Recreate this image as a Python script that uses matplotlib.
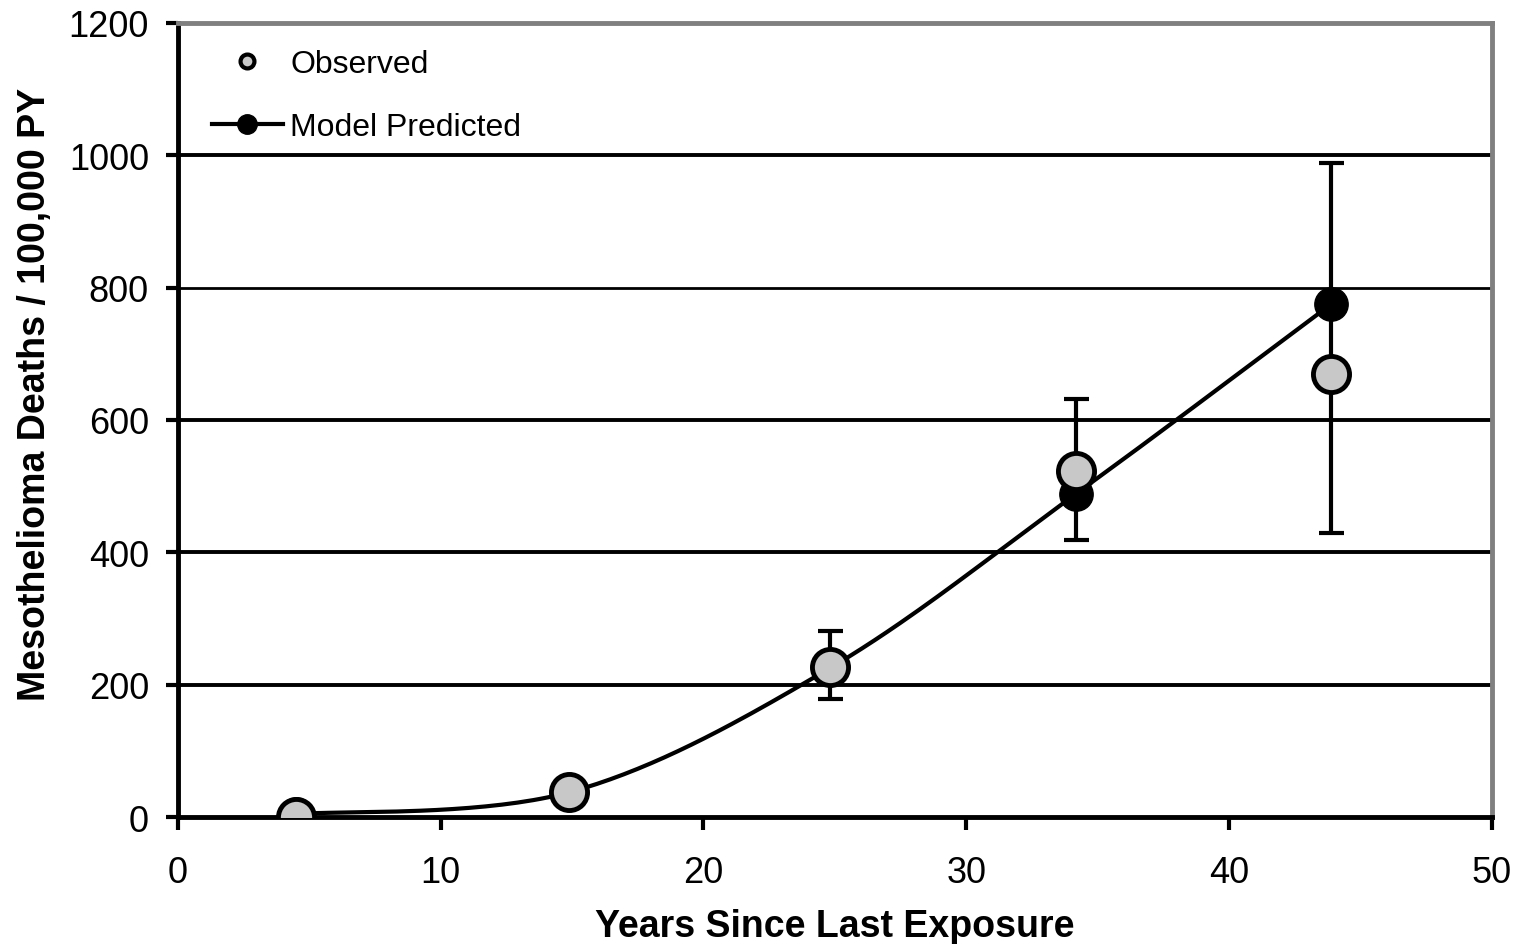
import matplotlib
matplotlib.use('Agg')
import matplotlib.pyplot as plt
import numpy as np

plt.rcParams['font.family'] = ['Liberation Sans', 'DejaVu Sans']

# data
years = [4.5, 14.9, 24.8, 34.2, 43.9]
observed = [0, 39, 227, 523, 670]
obs_low = [0, 39, 178, 419, 430]
obs_high = [0, 39, 281, 631, 988]
model = [5, 38, 225, 489, 775]


def smooth(xs, ys, n=40):
    # Catmull-Rom spline with repeated end points (Excel-like smoothed line)
    xs = np.asarray(xs, float)
    ys = np.asarray(ys, float)
    px = np.concatenate([[xs[0]], xs, [xs[-1]]])
    py = np.concatenate([[ys[0]], ys, [ys[-1]]])
    out_x, out_y = [], []
    t = np.linspace(0, 1, n)
    for i in range(1, len(px) - 2):
        for p, out in ((px, out_x), (py, out_y)):
            p0, p1, p2, p3 = p[i - 1], p[i], p[i + 1], p[i + 2]
            out.extend(0.5 * ((2 * p1) + (-p0 + p2) * t
                              + (2 * p0 - 5 * p1 + 4 * p2 - p3) * t ** 2
                              + (-p0 + 3 * p1 - 3 * p2 + p3) * t ** 3))
    return out_x, out_y


fig = plt.figure(figsize=(15.22, 9.45), dpi=100)
ax = fig.add_axes([0.117, 0.134, 0.863, 0.841])

for y in [200, 400, 600, 800, 1000]:
    ax.axhline(y, color='black', lw=2.8 if y != 800 else 2.0, zorder=1)

yerr = [np.array(observed) - np.array(obs_low), np.array(obs_high) - np.array(observed)]
ax.errorbar(years, observed, yerr=yerr, fmt='none', ecolor='black',
            elinewidth=3, capsize=9, capthick=3, zorder=2)

sx, sy = smooth(years, model)
ax.plot(sx, sy, color='black', lw=3, zorder=3)
ax.plot(years, model, 'o', color='black', ms=24, zorder=4)
ax.plot(years, observed, 'o', mfc='#c8c8c8', mec='black', mew=3.5, ms=26, zorder=5)

h1, = ax.plot([], [], 'o', mfc='#c8c8c8', mec='black', mew=3, ms=10, label='Observed')
h2, = ax.plot([], [], '-o', color='black', lw=3, ms=14, label='Model Predicted')
ax.legend(handles=[h1, h2], loc='upper left', frameon=False, fontsize=23,
          handlelength=2.2, handletextpad=0.25, labelspacing=1.05,
          borderpad=0, borderaxespad=0, bbox_to_anchor=(0.026, 0.967))

ax.set_xlim(0, 50)
ax.set_ylim(0, 1200)
ax.set_xticks(range(0, 51, 10))
ax.set_yticks(range(0, 1201, 200))
ax.tick_params(direction='out', length=9, width=3, labelsize=26)
ax.tick_params(axis='x', pad=18)
ax.tick_params(axis='y', pad=12)

for s in ['left', 'bottom']:
    ax.spines[s].set_linewidth(3.5)
    ax.spines[s].set_color('black')
for s in ['top', 'right']:
    ax.spines[s].set_linewidth(3.5)
    ax.spines[s].set_color('#808080')

ax.set_xlabel('Years Since Last Exposure', fontsize=27, fontweight='bold', labelpad=13)
ax.set_ylabel('Mesothelioma Deaths / 100,000 PY', fontsize=27, fontweight='bold', labelpad=12)
ax.yaxis.set_label_coords(-0.095, 0.533)

fig.savefig('out.png', dpi=100)
